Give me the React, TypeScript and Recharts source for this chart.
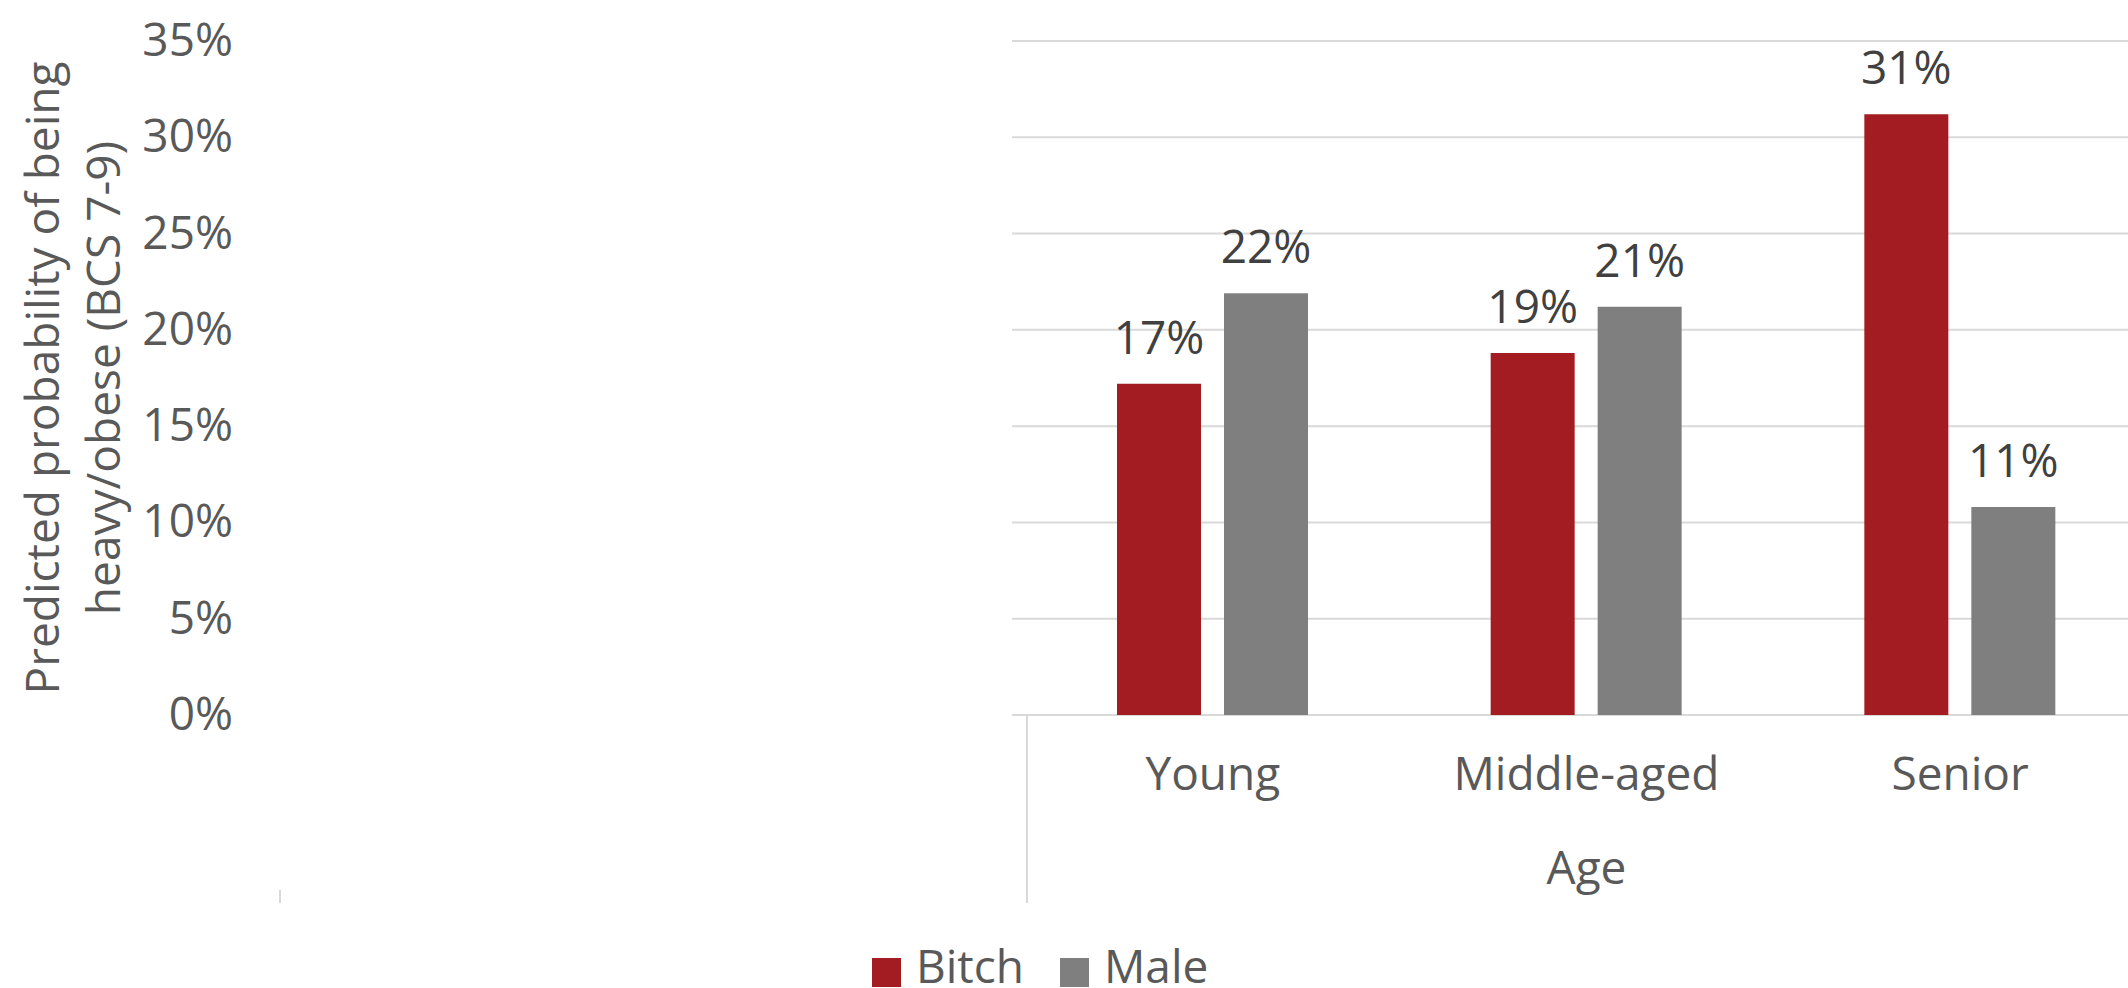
import React from "react";
import { BarChart, Bar, XAxis, YAxis, CartesianGrid, LabelList } from "recharts";

const categories = ["Young", "Middle-aged", "Senior"];
const bitchValues = [0.172, 0.188, 0.312];
const maleValues = [0.219, 0.212, 0.108];
const yTicks = [0, 0.05, 0.1, 0.15, 0.2, 0.25, 0.3, 0.35];
const seriesNames = ["Bitch", "Male"];

const RED = "#A31C21";
const GRAY = "#7F7F7F";
const GRID = "#D9D9D9";
const TEXT = "#595959";
const LABEL = "#404040";
const FONT = "'Open Sans', 'Noto Sans', sans-serif";
const FS = 46;
const XPAD = 14;

const data = categories.map((age, i) => ({
  age,
  bitch: bitchValues[i],
  male: maleValues[i],
}));

const pct = (v: any) => `${Math.round(Number(v) * 100)}%`;

const YTick = ({ y, payload }: any) => (
  <text x={233} y={y + 15} textAnchor="end" fill={TEXT} fontSize={FS}>
    {pct(payload.value)}
  </text>
);

const XTick = ({ x, y, payload }: any) => (
  <text x={x} y={y + 75} textAnchor="middle" fill={TEXT} fontSize={FS}>
    {payload.value}
  </text>
);

const YTitle = ({ viewBox }: any) => {
  const cy = viewBox.y + viewBox.height / 2;
  return (
    <g>
      <text x={41} y={cy} transform={`rotate(-90, 41, ${cy})`} textAnchor="middle" dominantBaseline="central" fill={TEXT} fontSize={FS}>
        Predicted probability of being
      </text>
      <text x={102} y={cy} transform={`rotate(-90, 102, ${cy})`} textAnchor="middle" dominantBaseline="central" fill={TEXT} fontSize={FS}>
        heavy/obese (BCS 7-9)
      </text>
    </g>
  );
};

const XTitle = ({ viewBox }: any) => {
  const left = viewBox.x + XPAD;
  const cx = left + (viewBox.width - XPAD) / 2;
  return (
    <g>
      {/* multi-level category dividers */}
      <line x1={left + 1} x2={left + 1} y1={viewBox.y} y2={viewBox.y + 188} stroke={GRID} strokeWidth={2} />
      <line x1={280} x2={280} y1={viewBox.y + 175} y2={viewBox.y + 188} stroke={GRID} strokeWidth={2} />
      <text x={cx} y={viewBox.y + 169} textAnchor="middle" fill={TEXT} fontSize={FS}>
        Age
      </text>
    </g>
  );
};

export default function App() {
  const colors = [RED, GRAY];
  return (
    <div
      style={{
        position: "absolute",
        left: 0,
        top: 0,
        width: 2128,
        height: 988,
        overflow: "hidden",
        background: "#fff",
        fontFamily: FONT,
      }}
    >
      <BarChart
        width={2160}
        height={988}
        data={data}
        margin={{ top: 41, right: 13, bottom: 73, left: 1000 }}
        barGap={23}
      >
        <CartesianGrid vertical={false} stroke={GRID} strokeWidth={2} />
        <YAxis
          domain={[0, 0.35]}
          ticks={yTicks}
          width={12}
          axisLine={false}
          tickLine={false}
          tick={<YTick />}
          label={{ content: <YTitle /> }}
        />
        <XAxis
          dataKey="age"
          height={200}
          axisLine={false}
          tickLine={false}
          tickSize={0}
          tickMargin={0}
          padding={{ left: XPAD, right: 0 }}
          tick={<XTick />}
          label={{ content: <XTitle /> }}
        />
        <Bar dataKey="bitch" name="Bitch" fill={RED} barSize={84} isAnimationActive={false}>
          <LabelList dataKey="bitch" position="top" offset={30} formatter={pct} style={{ fill: LABEL, fontSize: FS }} />
        </Bar>
        <Bar dataKey="male" name="Male" fill={GRAY} barSize={84} isAnimationActive={false}>
          <LabelList dataKey="male" position="top" offset={30} formatter={pct} style={{ fill: LABEL, fontSize: FS }} />
        </Bar>
      </BarChart>

      {/* Legend */}
      <div style={{ position: "absolute", left: 872, top: 945, display: "flex", alignItems: "flex-start", gap: 36 }}>
        {seriesNames.map((name, i) => (
          <div key={name} style={{ display: "flex", alignItems: "flex-start" }}>
            <span style={{ width: 29, height: 29, marginTop: 13, marginRight: 15, background: colors[i] }} />
            <span style={{ fontSize: FS, lineHeight: "40px", color: TEXT }}>{name}</span>
          </div>
        ))}
      </div>
    </div>
  );
}
